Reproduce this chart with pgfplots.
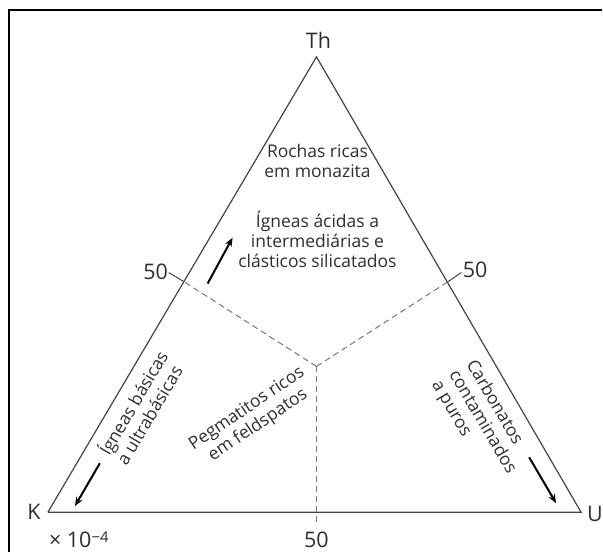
\documentclass[border=0pt]{standalone}
\usepackage{pgfplots}
\pgfplotsset{compat=1.18}
\usepackage{fontspec}
\setmainfont{Open Sans}
\usetikzlibrary{arrows.meta}

\definecolor{ink}{HTML}{2E2E2E}
\definecolor{edgegray}{HTML}{444444}
\definecolor{dashgray}{HTML}{777777}

\begin{document}
\begin{tikzpicture}
\begin{axis}[
    scale only axis,
    width=603bp, height=553bp,
    xmin=0, xmax=603, ymin=0, ymax=553,
    y dir=reverse,
    hide axis,
    clip=false,
]
% page extent and frame
\path (axis cs:0,0) rectangle (axis cs:603,553);
\draw[line width=2bp, black] (axis cs:9.5,553) |- (axis cs:603,10.5);

% triangle K - Th - U (pixel positions)
\addplot[edgegray, line width=1.2bp] coordinates {(48,513) (317,57) (582,513) (48,513)};

% dashed partitions from the centre to the mid points of the sides
\addplot[dashgray, line width=1bp, dash pattern=on 6bp off 4bp] coordinates {(317,367) (184,282)};
\addplot[dashgray, line width=1bp, dash pattern=on 6bp off 4bp] coordinates {(317,367) (449,282)};
\addplot[dashgray, line width=1bp, dash pattern=on 6bp off 4bp] coordinates {(317,367) (317,524)};
% ticks outside the sides
\addplot[edgegray, line width=1bp] coordinates {(184,282) (169,273)};
\addplot[edgegray, line width=1bp] coordinates {(449,282) (462,273)};

% arrows
\addplot[black, line width=2bp, -{Stealth[length=9bp,width=7bp]}] coordinates {(100,464) (75,507)};
\addplot[black, line width=2bp, -{Stealth[length=9bp,width=7bp]}] coordinates {(208,284) (233,238)};
\addplot[black, line width=2bp, -{Stealth[length=9bp,width=7bp]}] coordinates {(530,458) (557,504)};

% vertex and scale labels
\begin{scope}[every node/.style={text=ink, font=\fontsize{21.5bp}{23bp}\selectfont, inner sep=0pt}]
\node at (axis cs:319,40) {Th};
\node at (axis cs:34,513) {K};
\node at (axis cs:596,515) {U};
\node at (axis cs:156,272) {50};
\node at (axis cs:476,270) {50};
\node at (axis cs:317,541) {50};
\node at (axis cs:79,541) {× 10\raisebox{0.45ex}{\fontsize{15bp}{15bp}\selectfont −4}};
\end{scope}

% field labels
\begin{scope}[every node/.style={text=ink, font=\fontsize{17.5bp}{20bp}\selectfont, inner sep=0pt}]
\node[align=center] at (axis cs:318,161) {Rochas ricas\\em monazita};
\node[align=center] at (axis cs:318,240) {Ígneas ácidas a\\intermediárias e\\clásticos silicatados};
\node[align=left, rotate=59.5] at (axis cs:141,408) {Ígneas básicas\\a ultrabásicas};
\node[align=center, rotate=34] at (axis cs:253,418) {Pegmatitos ricos\\em feldspatos};
\node[align=left, rotate=-59.5] at (axis cs:483,423) {Carbonatos\\contaminados\\a puros};
\end{scope}
\end{axis}
\end{tikzpicture}
\end{document}
